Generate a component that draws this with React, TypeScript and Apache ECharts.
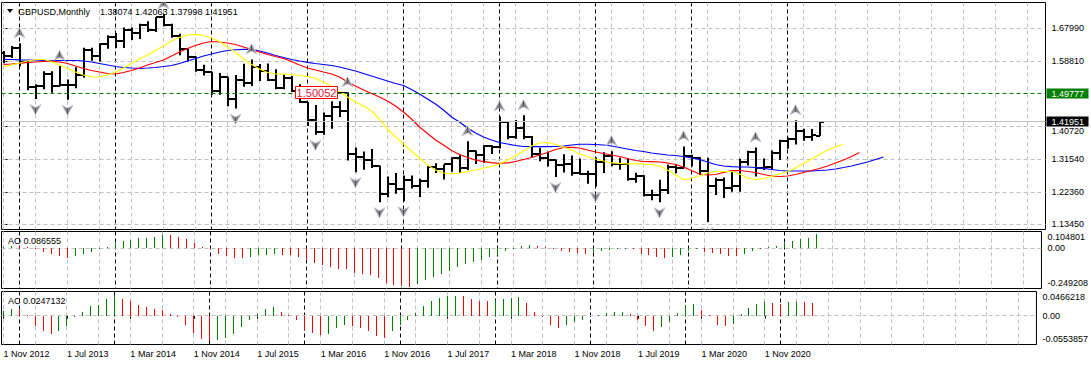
import React, { useEffect, useRef } from "react";
import * as echarts from "echarts";

// ---------------- DATA ----------------
const symbolTitle = "GBPUSD,Monthly";
// monthly bars, index 0 = 1 Nov 2012 ... 102 = 1 May 2021
const opens = [
  1.6125, 1.6025, 1.6255, 1.5858, 1.5171, 1.5196, 1.5527, 1.5195, 1.5212, 1.521,
  1.5494, 1.6194, 1.6034, 1.637, 1.6564, 1.6438, 1.6751, 1.6675, 1.6878, 1.6749,
  1.7104, 1.6885, 1.6595, 1.6218, 1.5995, 1.564, 1.5579, 1.5064, 1.5433, 1.4821,
  1.5349, 1.5284, 1.5712, 1.5614, 1.5364, 1.5126, 1.5425, 1.5061, 1.4738, 1.4248,
  1.3921, 1.4363, 1.4614, 1.4486, 1.3311, 1.3229, 1.313, 1.2968, 1.2185, 1.2479,
  1.2339, 1.2576, 1.2411, 1.2548, 1.2945, 1.2885, 1.3025, 1.3205, 1.2925, 1.3398,
  1.328, 1.3525, 1.3511, 1.4191, 1.3764, 1.4021, 1.377, 1.3294, 1.3205, 1.3123,
  1.3006, 1.3036, 1.2773, 1.2752, 1.2755, 1.3076, 1.3255, 1.3031, 1.3035, 1.2618,
  1.2695, 1.2155, 1.2163, 1.2294, 1.2942, 1.2916, 1.3254, 1.3203, 1.2823, 1.2419,
  1.2584, 1.2344, 1.2401, 1.3087, 1.3369, 1.2919, 1.295, 1.332, 1.3672, 1.371,
  1.3929, 1.3787, 1.38074,
];
const highs = [
  1.6171, 1.6309, 1.6381, 1.589, 1.5243, 1.5605, 1.5606, 1.5753, 1.5376, 1.5717,
  1.626, 1.6259, 1.6382, 1.6604, 1.6669, 1.6823, 1.6822, 1.6925, 1.6996, 1.711,
  1.7192, 1.6925, 1.6644, 1.6228, 1.6018, 1.5785, 1.5587, 1.5553, 1.5449, 1.5498,
  1.5815, 1.593, 1.5804, 1.582, 1.5659, 1.5508, 1.5475, 1.5242, 1.4752, 1.4668,
  1.4459, 1.477, 1.4769, 1.5018, 1.3481, 1.3372, 1.3445, 1.2981, 1.2675, 1.2774,
  1.2706, 1.2706, 1.2614, 1.296, 1.3048, 1.3013, 1.3213, 1.3268, 1.3656, 1.34,
  1.3549, 1.3549, 1.4345, 1.4191, 1.4245, 1.4377, 1.38, 1.3473, 1.3363, 1.3142,
  1.3298, 1.3258, 1.3175, 1.284, 1.3215, 1.335, 1.3381, 1.3197, 1.3176, 1.2783,
  1.2708, 1.231, 1.2583, 1.3012, 1.3012, 1.3514, 1.3284, 1.3212, 1.32, 1.2645,
  1.2648, 1.2813, 1.317, 1.3394, 1.3482, 1.3177, 1.3398, 1.3702, 1.3758, 1.4241,
  1.4002, 1.3999, 1.42063,
];
const lows = [
  1.5827, 1.5971, 1.5743, 1.5073, 1.4831, 1.5106, 1.5009, 1.5189, 1.4814, 1.5132,
  1.5425, 1.5894, 1.5878, 1.6228, 1.6252, 1.6251, 1.6471, 1.6504, 1.6693, 1.6693,
  1.6856, 1.6535, 1.6051, 1.5874, 1.5591, 1.5486, 1.495, 1.4952, 1.4632, 1.4565,
  1.517, 1.5191, 1.533, 1.533, 1.5107, 1.5106, 1.5026, 1.4722, 1.408, 1.3835,
  1.3836, 1.4006, 1.4332, 1.3122, 1.2798, 1.2866, 1.2916, 1.196, 1.2096, 1.2199,
  1.1987, 1.2345, 1.2109, 1.2367, 1.2774, 1.259, 1.2812, 1.2773, 1.286, 1.3027,
  1.3062, 1.3302, 1.3457, 1.3711, 1.3729, 1.3711, 1.3205, 1.3101, 1.2957, 1.2662,
  1.2786, 1.2696, 1.2723, 1.2477, 1.24, 1.2773, 1.2961, 1.2866, 1.256, 1.2506,
  1.2119, 1.2015, 1.1959, 1.2193, 1.2769, 1.2903, 1.2953, 1.2725, 1.1409, 1.2165,
  1.2076, 1.2251, 1.2252, 1.2982, 1.2676, 1.2855, 1.2854, 1.3134, 1.3451, 1.3566,
  1.3671, 1.3668, 1.37998,
];
const closes = [
  1.6025, 1.6255, 1.5858, 1.5171, 1.5196, 1.5527, 1.5195, 1.5212, 1.521, 1.5494,
  1.6194, 1.6034, 1.637, 1.6564, 1.6438, 1.6751, 1.6675, 1.6878, 1.6749, 1.7104,
  1.6885, 1.6595, 1.6218, 1.5995, 1.564, 1.5579, 1.5064, 1.5433, 1.4821, 1.5349,
  1.5284, 1.5712, 1.5614, 1.5364, 1.5126, 1.5425, 1.5061, 1.4738, 1.4248, 1.3921,
  1.4363, 1.4614, 1.4486, 1.3311, 1.3229, 1.313, 1.2968, 1.2185, 1.2479, 1.2339,
  1.2576, 1.2411, 1.2548, 1.2945, 1.2885, 1.3025, 1.3205, 1.2925, 1.3398, 1.328,
  1.3525, 1.3511, 1.4191, 1.3764, 1.4021, 1.377, 1.3294, 1.3205, 1.3123, 1.3006,
  1.3036, 1.2773, 1.2752, 1.2755, 1.3076, 1.3255, 1.3031, 1.3035, 1.2618, 1.2695,
  1.2155, 1.2163, 1.2294, 1.2942, 1.2916, 1.3254, 1.3203, 1.2823, 1.2419, 1.2584,
  1.2344, 1.2401, 1.3087, 1.3369, 1.2919, 1.295, 1.332, 1.3672, 1.371, 1.3929,
  1.3787, 1.383, 1.41951,
];
// Alligator: jaw (blue), teeth (red), lips (yellow) – drawn values incl. forward shift
const jaw = [
  1.5936, 1.5931, 1.5923, 1.5917, 1.5917, 1.5909, 1.5903, 1.5903, 1.5903, 1.5903,
  1.5889, 1.5861, 1.582, 1.5778, 1.5736, 1.5709, 1.5695, 1.5686, 1.5695, 1.5709,
  1.5736, 1.5764, 1.582, 1.5889, 1.5959, 1.6028, 1.6084, 1.614, 1.6181, 1.6203,
  1.6214, 1.6209, 1.6167, 1.6112, 1.6042, 1.5987, 1.5931, 1.5889, 1.5853, 1.582,
  1.5792, 1.5764, 1.5722, 1.5667, 1.5611, 1.5542, 1.5472, 1.5403, 1.5333, 1.5264,
  1.5208, 1.5097, 1.4972, 1.4833, 1.4693, 1.4526, 1.4332, 1.4193, 1.4026, 1.3887,
  1.3775, 1.3692, 1.3622, 1.3581, 1.3539, 1.3511, 1.3506, 1.3506, 1.3506, 1.3511,
  1.3525, 1.3553, 1.3573, 1.3573, 1.3567, 1.3553, 1.3525, 1.3484, 1.3442, 1.34,
  1.3372, 1.333, 1.3303, 1.3275, 1.3261, 1.3233, 1.3191, 1.315, 1.308, 1.3011,
  1.2969, 1.295, 1.2941, 1.2941, 1.2927, 1.29, 1.2872, 1.2844, 1.283, 1.283,
  1.283, 1.283, 1.2844, 1.2858, 1.2886, 1.2927, 1.2969, 1.3025, 1.308, 1.315,
  1.3219,
];
const teeth = [
  1.5798, 1.5806, 1.5826, 1.5848, 1.5862, 1.5876, 1.5884, 1.5862, 1.582, 1.575,
  1.5681, 1.5625, 1.5583, 1.5542, 1.5528, 1.557, 1.5625, 1.5695, 1.5778, 1.5848,
  1.5917, 1.6028, 1.614, 1.6237, 1.6321, 1.639, 1.6432, 1.6418, 1.639, 1.6349,
  1.6279, 1.6209, 1.614, 1.607, 1.6014, 1.5959, 1.5876, 1.5778, 1.5695, 1.5639,
  1.5583, 1.5528, 1.5444, 1.5305, 1.5194, 1.5083, 1.4986, 1.4888, 1.4777, 1.4638,
  1.4471, 1.4276, 1.4054, 1.3873, 1.3692, 1.3553, 1.34, 1.3289, 1.3206, 1.3136,
  1.3089, 1.3061, 1.3044, 1.3053, 1.3094, 1.315, 1.3206, 1.3275, 1.3345, 1.3428,
  1.3484, 1.3489, 1.347, 1.3414, 1.3358, 1.3317, 1.3275, 1.3233, 1.3178, 1.3122,
  1.3094, 1.3089, 1.308, 1.3053, 1.3011, 1.2941, 1.2844, 1.2746, 1.2718, 1.2732,
  1.2788, 1.2838, 1.2844, 1.2816, 1.2788, 1.2732, 1.2691, 1.2677, 1.2691, 1.2732,
  1.2788, 1.2844, 1.29, 1.2969, 1.3053, 1.3136, 1.3233, 1.3345,
];
const lips = [
  1.5731, 1.5778, 1.5834, 1.5889, 1.5931, 1.5931, 1.5876, 1.5778, 1.5681, 1.5583,
  1.55, 1.5444, 1.5444, 1.55, 1.5583, 1.5695, 1.582, 1.5945, 1.6056, 1.6181,
  1.6307, 1.6446, 1.6543, 1.6613, 1.6632, 1.6599, 1.6529, 1.6432, 1.6279, 1.6126,
  1.5945, 1.5792, 1.5667, 1.557, 1.5528, 1.5528, 1.5514, 1.5486, 1.5458, 1.5403,
  1.5305, 1.518, 1.5041, 1.4888, 1.4749, 1.4638, 1.4499, 1.4276, 1.3998, 1.3775,
  1.3581, 1.3386, 1.3191, 1.2997, 1.2858, 1.2774, 1.2746, 1.2774, 1.2816, 1.2858,
  1.2913, 1.2955, 1.3025, 1.3136, 1.3247, 1.3386, 1.3525, 1.3609, 1.3622, 1.3567,
  1.3497, 1.3414, 1.3303, 1.3233, 1.3164, 1.3108, 1.3053, 1.3039, 1.3025, 1.3025,
  1.3025, 1.3011, 1.2969, 1.2858, 1.2718, 1.2593, 1.2621, 1.2691, 1.2774, 1.2816,
  1.2816, 1.2816, 1.2746, 1.2635, 1.2593, 1.2621, 1.2677, 1.2746, 1.2816, 1.2913,
  1.3039, 1.3164, 1.3289, 1.3414, 1.3497, 1.3581,
];
const aoValues = [
  0.006, 0.015, 0.012, 0.004, -0.006, -0.023, -0.037, -0.048, -0.058, -0.048,
  -0.033, -0.021, -0.006, 0.008, 0.035, 0.046, 0.052, 0.062, 0.066, 0.073,
  0.081, 0.08, 0.071, 0.056, 0.035, 0.008, -0.004, -0.034, -0.05, -0.061,
  -0.062, -0.053, -0.044, -0.043, -0.037, -0.04, -0.044, -0.051, -0.066, -0.09,
  -0.105, -0.118, -0.125, -0.131, -0.15, -0.159, -0.168, -0.187, -0.212, -0.228,
  -0.234, -0.238, -0.222, -0.196, -0.18, -0.162, -0.141, -0.118, -0.097, -0.082,
  -0.074, -0.055, -0.043, -0.017, -0.002, 0.012, 0.02, 0.012, 0.004, -0.005,
  -0.015, -0.022, -0.026, -0.032, -0.022, -0.016, -0.011, -0.006, -0.003, -0.006,
  -0.032, -0.042, -0.055, -0.058, -0.052, -0.042, -0.018, -0.006, -0.02, -0.027,
  -0.036, -0.047, -0.049, -0.033, -0.017, -0.006, 0.004, 0.016, 0.035, 0.046,
  0.057, 0.066, 0.086555,
];
const acValues = [
  0.0096, 0.0128, 0.011, 0.001, -0.0205, -0.029, -0.0346, -0.029, -0.0205, -0.003,
  0.007, 0.018, 0.021, 0.0327, 0.039, 0.0327, 0.0276, 0.021, 0.016, 0.0135,
  0.0115, 0.0038, -0.003, -0.0186, -0.033, -0.044, -0.049, -0.046, -0.043, -0.0346,
  -0.0224, -0.0077, 0.003, 0.0135, 0.016, 0.007, -0.0005, -0.0077, -0.029, -0.033,
  -0.0366, -0.0346, -0.0237, -0.0173, -0.0205, -0.0237, -0.029, -0.0398, -0.043, -0.029,
  -0.0173, -0.0077, 0.005, 0.019, 0.029, 0.035, 0.037, 0.0385, 0.038, 0.0327,
  0.029, 0.0276, 0.031, 0.0327, 0.035, 0.0355, 0.024, 0.007, -0.003, -0.0186,
  -0.0237, -0.0186, -0.012, -0.0077, -0.003, 0.0006, 0.005, 0.007, 0.0072, 0.003,
  -0.0077, -0.0192, -0.029, -0.0224, -0.012, 0.005, 0.0199, 0.0231, 0.0115, 0.0006,
  -0.0173, -0.0205, -0.016, 0.003, 0.0148, 0.0231, 0.0262, 0.025, 0.0235, 0.0262,
  0.027, 0.0262, 0.0247132,
];
const upFractals = [2, 7, 20, 31, 43, 58, 62, 65, 76, 85, 94, 99];
const downFractals = [4, 8, 29, 39, 44, 47, 50, 69, 74, 82, 88];
const xTickIdx = [0, 8, 16, 24, 32, 40, 48, 56, 64, 72, 80, 88, 96];
const xTickLabels = [
  "1 Nov 2012", "1 Jul 2013", "1 Mar 2014", "1 Nov 2014", "1 Jul 2015", "1 Mar 2016",
  "1 Nov 2016", "1 Jul 2017", "1 Mar 2018", "1 Nov 2018", "1 Jul 2019", "1 Mar 2020", "1 Nov 2020",
];
const yearStartIdx = [2, 14, 26, 38, 50, 62, 74, 86, 98];
const priceTicks = [1.6799, 1.5881, 1.4072, 1.3154, 1.2236, 1.1345];
const aoTicks = [0.104801, 0, -0.249208];
const aoTickLabels = ["0.104801", "0.00", "-0.249208"];
const acTicks = [0.0466218, 0, -0.0553857];
const acTickLabels = ["0.0466218", "0.00", "-0.0553857"];
const horizontalLinePrice = 1.49777;
const bidPrice = 1.41951;
const priceLabelIdx = 43;
const priceLabelValue = 1.50052;

// ---------------- STYLE / LAYOUT ----------------
const FF = "'Liberation Sans', Arial, sans-serif";
const FONT = `9px ${FF}`;
const GREEN = "#008000";
const RED = "#ff0000";
const GRAY = "#c0c0c0";
const L = 1.5;
const R = 45.5;
const XMIN = -0.25;
const XMAX = 130.25;

const snap = (v: number) => Math.floor(v) + 0.5;

function vLines(g: number, idx: number[], color: string, dash: number[]) {
  return {
    type: "custom", xAxisIndex: g, yAxisIndex: g, z: 1, silent: true, clip: false,
    data: idx.map((i) => [i]),
    encode: { x: 0 },
    renderItem: (params: any, api: any) => {
      const cs = params.coordSys;
      const x = snap(api.coord([api.value(0), 0])[0]);
      return {
        type: "line",
        shape: { x1: x, y1: cs.y, x2: x, y2: cs.y + cs.height },
        style: { stroke: color, lineWidth: 1, lineDash: dash },
      };
    },
  };
}

function hLines(g: number, vals: number[], color: string, dash: number[]) {
  return {
    type: "custom", xAxisIndex: g, yAxisIndex: g, z: 1, silent: true, clip: false,
    data: vals.map((v) => [0, v]),
    encode: { x: 0, y: 1 },
    renderItem: (params: any, api: any) => {
      const cs = params.coordSys;
      const y = snap(api.coord([0, api.value(1)])[1]);
      return {
        type: "line",
        shape: { x1: cs.x, y1: y, x2: cs.x + cs.width, y2: y },
        style: { stroke: color, lineWidth: 1, lineDash: dash },
      };
    },
  };
}

function priceLineWithBox(value: number, lineColor: string, dash: number[] | null, boxColor: string, text: string) {
  return {
    type: "custom", xAxisIndex: 0, yAxisIndex: 0, z: 8, silent: true, clip: false,
    data: [[0, value]],
    encode: { x: 0, y: 1 },
    renderItem: (params: any, api: any) => {
      const cs = params.coordSys;
      const y = snap(api.coord([0, api.value(1)])[1]);
      const right = cs.x + cs.width;
      return {
        type: "group",
        children: [
          {
            type: "line",
            shape: { x1: cs.x, y1: y, x2: right, y2: y },
            style: { stroke: lineColor, lineWidth: 1, lineDash: dash || undefined },
          },
          {
            type: "rect",
            shape: { x: right + 1, y: y - 5, width: 42, height: 10 },
            style: { fill: boxColor },
          },
          {
            type: "text",
            style: {
              text, x: right + 6, y: y + 0.5, fill: "#fff", font: FONT,
              textAlign: "left", textVerticalAlign: "middle", verticalAlign: "middle",
            },
          },
        ],
      };
    },
  };
}

function histSeries(g: number, vals: number[]) {
  return {
    type: "custom", xAxisIndex: g, yAxisIndex: g, z: 3, silent: true, clip: true,
    data: vals.map((v, i) => [i, v, i === 0 || v >= vals[i - 1] ? 1 : 0]),
    encode: { x: 0, y: 1 },
    renderItem: (params: any, api: any) => {
      const i = api.value(0);
      const x = snap(api.coord([i, 0])[0]);
      const y0 = Math.round(api.coord([i, 0])[1]);
      const y1 = Math.round(api.coord([i, api.value(1)])[1]);
      return {
        type: "line",
        shape: { x1: x, y1: y0, x2: x, y2: y1 === y0 ? y0 - 1 : y1 },
        style: { stroke: api.value(2) ? GREEN : RED, lineWidth: 1 },
      };
    },
  };
}

function fractalSeries(idx: number[], up: boolean) {
  return {
    type: "custom", xAxisIndex: 0, yAxisIndex: 0, z: 6, silent: true, clip: true,
    data: idx.map((i) => [i, up ? highs[i] : lows[i]]),
    encode: { x: 0, y: 1 },
    renderItem: (params: any, api: any) => {
      const p = api.coord([api.value(0), api.value(1)]);
      const cx = Math.floor(p[0]) + 0.5;
      const cy = p[1] + (up ? -10.5 : 10.5);
      const s = up ? 1 : -1;
      const pts = [
        [cx, cy - 5 * s],
        [cx + 5.5, cy + 5 * s],
        [cx, cy + 2 * s],
        [cx - 5.5, cy + 5 * s],
      ];
      return {
        type: "group",
        children: [
          { type: "polygon", shape: { points: pts }, style: { fill: "#858585", stroke: "#c6cad6", lineWidth: 1 } },
          { type: "line", shape: { x1: cx, y1: cy - 4 * s, x2: cx, y2: cy + 2 * s }, style: { stroke: "#555", lineWidth: 1 } },
        ],
      };
    },
  };
}

function buildOption(): any {
  const gridBase = { left: L, right: R, show: true, borderColor: "#000", borderWidth: 1, backgroundColor: "#fff", containLabel: false };
  const grayGridIdx: number[] = [];
  for (let i = 0; i <= 128; i += 4) grayGridIdx.push(i);

  const xAxes = [0, 1, 2].map((g) => ({
    type: "value", gridIndex: g, min: XMIN, max: XMAX,
    show: g === 2,
    axisLine: { show: false },
    splitLine: { show: false },
    axisTick: g === 2
      ? { show: true, customValues: xTickIdx, length: 3, lineStyle: { color: "#000" } }
      : { show: false },
    axisLabel: g === 2
      ? {
          show: true, customValues: xTickIdx, align: "left", margin: 5,
          color: "#000", fontSize: 9, fontFamily: FF,
          formatter: (v: number) => xTickLabels[xTickIdx.indexOf(Math.round(v))] ?? "",
        }
      : { show: false },
  }));

  const sideLabel = (ticks: number[], labels: string[]) => ({
    show: true, customValues: ticks, margin: 6, color: "#000", fontSize: 9, fontFamily: FF,
    formatter: (v: number) => {
      const k = ticks.findIndex((t) => Math.abs(t - v) < 1e-9);
      const s = k >= 0 ? labels[k] : "";
      if (k === 0) return `{t|${s}}`;
      if (k === ticks.length - 1) return `{b|${s}}`;
      return s;
    },
    rich: {
      t: { padding: [11, 0, 0, 0], fontSize: 9, fontFamily: FF, color: "#000" },
      b: { padding: [0, 0, 12, 0], fontSize: 9, fontFamily: FF, color: "#000" },
    },
  });

  const yAxes = [
    {
      type: "value", gridIndex: 0, position: "right", min: 1.12023, max: 1.75167,
      axisLine: { show: false }, splitLine: { show: false },
      axisTick: { show: true, customValues: priceTicks, length: 4, lineStyle: { color: "#000" } },
      axisLabel: {
        show: true, customValues: priceTicks, margin: 6, color: "#000", fontSize: 9, fontFamily: FF,
        formatter: (v: number) => {
          const s = v.toFixed(5);
          // the label just under the bid box is nudged down so the two stay readable
          return Math.abs(v - bidPrice) < 0.02 ? `{d|${s}}` : s;
        },
        rich: { d: { padding: [9, 0, 0, 0], fontSize: 9, fontFamily: FF, color: "#000" } },
      },
    },
    {
      type: "value", gridIndex: 1, position: "right", min: -0.249208, max: 0.104801,
      axisLine: { show: false }, splitLine: { show: false },
      axisTick: { show: false },
      axisLabel: sideLabel(aoTicks, aoTickLabels),
    },
    {
      type: "value", gridIndex: 2, position: "right", min: -0.0553857, max: 0.0466218,
      axisLine: { show: false }, splitLine: { show: false },
      axisTick: { show: false },
      axisLabel: sideLabel(acTicks, acTickLabels),
    },
  ];

  const series: any[] = [];
  for (const g of [0, 1, 2]) {
    series.push(vLines(g, grayGridIdx, GRAY, [4, 3]));
    series.push(vLines(g, yearStartIdx, "#000", [4, 3]));
  }
  series.push(hLines(0, priceTicks, GRAY, [4, 3]));
  series.push(hLines(1, [0], GRAY, [4, 3]));
  series.push(hLines(2, [0], GRAY, [4, 3]));

  series.push(priceLineWithBox(bidPrice, GRAY, null, "#000", bidPrice.toFixed(5)));

  // OHLC bars
  series.push({
    type: "custom", xAxisIndex: 0, yAxisIndex: 0, z: 4, silent: true, clip: true,
    data: opens.map((o, i) => [i, o, highs[i], lows[i], closes[i]]),
    encode: { x: 0, y: [1, 2, 3, 4] },
    renderItem: (params: any, api: any) => {
      const i = api.value(0);
      const x = Math.floor(api.coord([i, api.value(1)])[0]) + 1;
      const yO = Math.round(api.coord([i, api.value(1)])[1]);
      const yH = api.coord([i, api.value(2)])[1];
      const yL = api.coord([i, api.value(3)])[1];
      const yC = Math.round(api.coord([i, api.value(4)])[1]);
      return {
        type: "group",
        children: [
          { type: "line", shape: { x1: x, y1: yH, x2: x, y2: yL }, style: { stroke: "#000", lineWidth: 2 } },
          { type: "line", shape: { x1: x - 4, y1: yO, x2: x, y2: yO }, style: { stroke: "#000", lineWidth: 2 } },
          { type: "line", shape: { x1: x, y1: yC, x2: x + 4, y2: yC }, style: { stroke: "#000", lineWidth: 2 } },
        ],
      };
    },
  });

  const maLine = (vals: number[], color: string) => ({
    type: "line", xAxisIndex: 0, yAxisIndex: 0, z: 5, silent: true,
    data: vals.map((v, i) => [i, v]),
    showSymbol: false, symbol: "none",
    lineStyle: { color, width: 1.2 },
    itemStyle: { color },
  });
  series.push(maLine(jaw, "#0000ff"));
  series.push(maLine(teeth, "#ff0000"));
  series.push(maLine(lips, "#ffff00"));

  series.push(fractalSeries(upFractals, true));
  series.push(fractalSeries(downFractals, false));

  series.push(priceLineWithBox(horizontalLinePrice, GREEN, [4, 3], GREEN, horizontalLinePrice.toFixed(5)));

  // left price label
  series.push({
    type: "custom", xAxisIndex: 0, yAxisIndex: 0, z: 9, silent: true, clip: false,
    data: [[priceLabelIdx, priceLabelValue]],
    encode: { x: 0, y: 1 },
    renderItem: (params: any, api: any) => {
      const p = api.coord([api.value(0), api.value(1)]);
      const ax = Math.floor(p[0]) + 0.5;
      const y = snap(p[1]);
      return {
        type: "group",
        children: [
          { type: "line", shape: { x1: ax - 10, y1: y, x2: ax, y2: y }, style: { stroke: "#000", lineWidth: 1 } },
          { type: "rect", shape: { x: ax - 52, y: y - 6, width: 42, height: 12 }, style: { fill: "#fff", stroke: RED, lineWidth: 1 } },
          {
            type: "text",
            style: {
              text: priceLabelValue.toFixed(5), x: ax - 31, y: y + 0.5, fill: "#e8103a",
              font: `11px ${FF}`, textAlign: "center", align: "center",
              textVerticalAlign: "middle", verticalAlign: "middle",
            },
          },
        ],
      };
    },
  });

  series.push(histSeries(1, aoValues));
  series.push(histSeries(2, acValues));

  const last = opens.length - 1;
  const headerValues = [opens[last], highs[last], lows[last], closes[last]].map((v) => v.toFixed(5)).join(" ");

  const txt = (x: number, y: number, text: string) => ({
    type: "text", x, y, z: 100, silent: true,
    style: { text, font: FONT, fill: "#000", textVerticalAlign: "middle", verticalAlign: "middle" },
  });

  return {
    animation: false,
    backgroundColor: "#fff",
    grid: [
      { ...gridBase, top: 2.5, height: 227 },
      { ...gridBase, top: 231.5, height: 57 },
      { ...gridBase, top: 291.5, height: 53 },
    ],
    xAxis: xAxes,
    yAxis: yAxes,
    series,
    graphic: [
      { type: "polygon", z: 100, silent: true, shape: { points: [[7, 9], [13, 9], [10, 13]] }, style: { fill: "#000" } },
      txt(18, 11.5, symbolTitle),
      txt(100, 11.5, headerValues),
      txt(8, 240.5, `AO ${aoValues[last].toFixed(6)}`),
      txt(8, 300.5, `AC ${acValues[last].toFixed(7)}`),
    ],
  };
}

export default function App() {
  const ref = useRef<HTMLDivElement>(null);
  useEffect(() => {
    if (!ref.current) return;
    const chart = echarts.init(ref.current, undefined, { renderer: "svg" });
    chart.setOption(buildOption());
    return () => chart.dispose();
  }, []);
  return (
    <div
      ref={ref}
      style={{ position: "absolute", left: 0, top: 0, width: 1091, height: 366, background: "#fff" }}
    />
  );
}
